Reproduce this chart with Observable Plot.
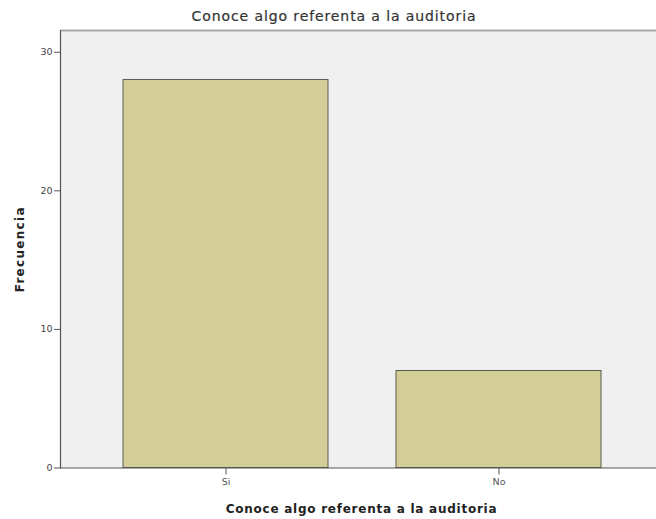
<!DOCTYPE html>
<html>
<head>
<meta charset="utf-8">
<script src="https://cdn.jsdelivr.net/npm/d3@7"></script>
<script src="https://cdn.jsdelivr.net/npm/@observablehq/plot@0.6"></script>
<style>
  html, body { margin: 0; padding: 0; background: #fff; }
  #title { position: relative; top: 8px; height: 22px; line-height: 26px; font: 14px "DejaVu Sans", sans-serif; letter-spacing: 0.9px; color: #333; text-align: center; width: 656px; padding-left: 12px; box-sizing: border-box; -webkit-text-stroke: 0.2px #333; }
  svg { display: block; }
</style>
</head>
<body>
<div id="title">Conoce algo referenta a la auditoria</div>
<div id="chart"></div>
<script>
const categories = ["Si", "No"];
const frequencies = [28, 7];
const yTicks = [0, 10, 20, 30];
const xLabel = "Conoce algo referenta a la auditoria";
const yLabel = "Frecuencia";

const data = categories.map((c, i) => ({cat: c, freq: frequencies[i]}));

const chart = Plot.plot({
  width: 656,
  height: 497,
  marginTop: 8,
  marginLeft: 60,
  marginRight: 0,
  marginBottom: 51.5,
  style: {fontFamily: "'DejaVu Sans', sans-serif", background: "transparent", color: "#333"},
  x: {domain: categories, range: [60, 664], paddingInner: 0.25, paddingOuter: 0.23, label: null},
  y: {domain: [0, 31.57], label: null},
  marks: [
    Plot.frame({fill: "#f0f0f0", stroke: null}),
    Plot.ruleY([31.57], {stroke: "#a8a8a8", strokeWidth: 2}),
    Plot.barY(data, {x: "cat", y: "freq", fill: "#d3ce97", stroke: "#5a5a50", strokeWidth: 1}),
    Plot.frame({anchor: "left", stroke: "#555", strokeWidth: 1.2}),
    Plot.ruleY([0], {stroke: "#555", strokeWidth: 1.2}),
    Plot.axisY({ticks: yTicks, tickSize: 6, tickPadding: 2, fontSize: 9.5, stroke: "#555", color: "#444", label: null}),
    Plot.axisX({tickSize: 7, tickPadding: 3, fontSize: 9.5, color: "#555", stroke: "#555", label: null}),
    Plot.text([xLabel], {frameAnchor: "bottom", dy: 45, dx: 3, fontSize: 12, fontWeight: "bold", fill: "#222"}),
    Plot.text([yLabel], {frameAnchor: "left", dx: -40, rotate: -90, textAnchor: "middle", fontSize: 12, fontWeight: "bold", fill: "#222"})
  ]
});
document.getElementById("chart").appendChild(chart);
d3.select(chart).selectAll("text").each(function() {
  const t = this.textContent;
  if (t === xLabel) this.style.letterSpacing = "0.75px";
  if (t === yLabel) this.style.letterSpacing = "1.3px";
});
</script>
</body>
</html>
